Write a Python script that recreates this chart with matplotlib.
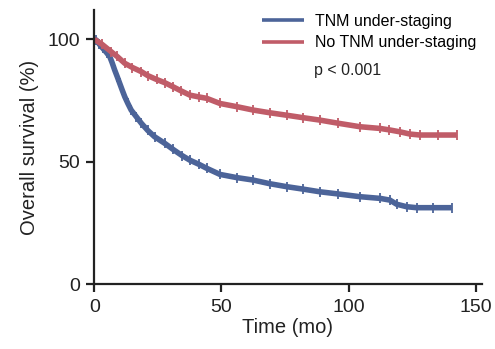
import matplotlib.pyplot as plt

# Kaplan-Meier estimates (time in months, survival in %)
blue_t = [0, 0.8, 2, 3.4, 4.8, 6.1, 7, 8, 9, 10, 11, 12, 13.2, 14.5, 16.5,
          18.5, 21, 23.7, 27.7, 31, 34.5, 37.6, 41, 44.2, 49.4, 56, 62.4, 69,
          75.6, 82, 88.7, 96, 104.4, 112.4, 116.2, 118.9, 122.8, 126.7, 133,
          140.5]
blue_s = [100, 99.7, 98, 96.3, 94.6, 92.9, 90.5, 87.5, 84.8, 82, 79.2, 76.5,
          73.8, 71.1, 68.4, 65.7, 62.8, 60.2, 57.5, 55, 52.5, 50.6, 49, 47.3,
          44.8, 43.5, 42.5, 41, 39.8, 38.8, 37.7, 36.8, 35.7, 35, 34.3, 32.6,
          31.6, 31.2, 31.2, 31.2]

red_t = [0, 3, 6.7, 9, 12, 15, 18.5, 21, 24.5, 27.7, 31, 34, 37.6, 41, 44.2,
         49.4, 56, 62.5, 69, 75.6, 82, 88.7, 96, 104.4, 112.3, 116, 120.2,
         124.1, 128, 135, 142.5]
red_s = [100, 98, 94.9, 93, 90.2, 88.5, 86.8, 85.2, 83.6, 82.3, 80.6, 79,
         77.2, 76.5, 75.9, 73.8, 72.5, 71.1, 70, 69, 68, 67, 65.7, 64.3, 63.6,
         63, 62.2, 61.3, 60.9, 60.9, 60.9]

labels = ["TNM under-staging", "No TNM under-staging"]
colors = ["#4c6499", "#c05c68"]
ink = "#222222"

plt.rcParams["font.family"] = ["Liberation Sans", "DejaVu Sans"]

fig = plt.figure(figsize=(4.95, 3.49), dpi=100)
ax = fig.add_axes([0.1905, 0.1862, 0.7826, 0.7851])

for t, s, c, lab in [(blue_t, blue_s, colors[0], labels[0]),
                     (red_t, red_s, colors[1], labels[1])]:
    ax.plot(t, s, color=c, lw=4, solid_capstyle="butt", label=lab)
    ax.plot(t, s, "|", color=c, ms=6.5, mew=1.3)

ax.set_xlim(0, 152.3)
ax.set_ylim(0, 112)
ax.set_xticks([0, 50, 100, 150])
ax.set_yticks([0, 50, 100])
for side in ["top", "right"]:
    ax.spines[side].set_visible(False)
for side in ["left", "bottom"]:
    ax.spines[side].set_linewidth(1.6)
    ax.spines[side].set_color(ink)
ax.tick_params(length=6, width=1.6, color=ink, labelsize=14,
               labelcolor=ink, pad=4.5)
ax.set_xlabel("Time (mo)", fontsize=14.5, color=ink, labelpad=2)
ax.set_ylabel("Overall survival (%)", fontsize=14.5, color=ink, labelpad=6)

leg = ax.legend(loc="upper left", bbox_to_anchor=(262 / 495, 1 - 14 / 349),
                bbox_transform=fig.transFigure, frameon=False, fontsize=11.5,
                handlelength=2.6, handletextpad=0.7, labelspacing=0.4,
                borderpad=0, borderaxespad=0)
for line in leg.get_lines():
    line.set_linewidth(2.6)
fig.text(314 / 495, 1 - 70 / 349, "p < 0.001", fontsize=11.5, va="center",
         color=ink)

fig.savefig("out.png", dpi=100)
